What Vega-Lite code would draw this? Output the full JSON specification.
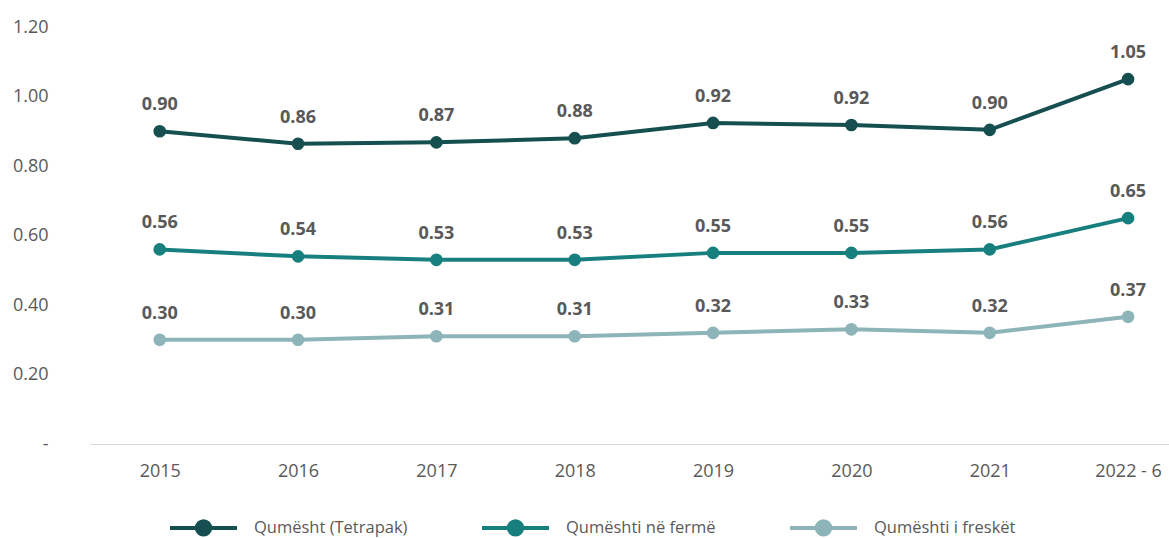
{
  "$schema": "https://vega.github.io/schema/vega-lite/v6.json",
  "width": 1079,
  "height": 417,
  "autosize": {"type": "none"},
  "padding": {"left": 90, "top": 27, "right": 0, "bottom": 94},
  "background": "white",
  "config": {"view": {"stroke": null}, "font": "Open Sans"},
  "data": {
    "values": [
      {"year": "2015", "series": "Qumësht (Tetrapak)", "value": 0.90},
      {"year": "2016", "series": "Qumësht (Tetrapak)", "value": 0.864},
      {"year": "2017", "series": "Qumësht (Tetrapak)", "value": 0.868},
      {"year": "2018", "series": "Qumësht (Tetrapak)", "value": 0.88},
      {"year": "2019", "series": "Qumësht (Tetrapak)", "value": 0.924},
      {"year": "2020", "series": "Qumësht (Tetrapak)", "value": 0.918},
      {"year": "2021", "series": "Qumësht (Tetrapak)", "value": 0.904},
      {"year": "2022 - 6", "series": "Qumësht (Tetrapak)", "value": 1.05},
      {"year": "2015", "series": "Qumështi në fermë", "value": 0.56},
      {"year": "2016", "series": "Qumështi në fermë", "value": 0.54},
      {"year": "2017", "series": "Qumështi në fermë", "value": 0.53},
      {"year": "2018", "series": "Qumështi në fermë", "value": 0.53},
      {"year": "2019", "series": "Qumështi në fermë", "value": 0.55},
      {"year": "2020", "series": "Qumështi në fermë", "value": 0.55},
      {"year": "2021", "series": "Qumështi në fermë", "value": 0.56},
      {"year": "2022 - 6", "series": "Qumështi në fermë", "value": 0.65},
      {"year": "2015", "series": "Qumështi i freskët", "value": 0.30},
      {"year": "2016", "series": "Qumështi i freskët", "value": 0.30},
      {"year": "2017", "series": "Qumështi i freskët", "value": 0.31},
      {"year": "2018", "series": "Qumështi i freskët", "value": 0.31},
      {"year": "2019", "series": "Qumështi i freskët", "value": 0.32},
      {"year": "2020", "series": "Qumështi i freskët", "value": 0.33},
      {"year": "2021", "series": "Qumështi i freskët", "value": 0.32},
      {"year": "2022 - 6", "series": "Qumështi i freskët", "value": 0.366}
    ]
  },
  "encoding": {
    "x": {
      "field": "year", "type": "ordinal", "sort": null,
      "scale": {"type": "point", "padding": 0.4, "align": 0.63},
      "axis": {"title": null, "labelAngle": 0, "domain": true, "domainColor": "#d9d9d9", "domainWidth": 1, "ticks": false, "tickSize": 0, "labelPadding": 18, "labelFontSize": 18, "labelColor": "#595959", "labelFont": "Open Sans", "grid": false}
    },
    "y": {
      "field": "value", "type": "quantitative",
      "scale": {"domain": [0, 1.2], "nice": false},
      "axis": {"title": null, "values": [0, 0.2, 0.4, 0.6, 0.8, 1.0, 1.2], "labelExpr": "datum.value == 0 ? '-' : format(datum.value, '.2f')", "grid": false, "domain": false, "ticks": false, "tickSize": 0, "labelPadding": 42, "labelFontSize": 18, "labelColor": "#595959", "labelFont": "Open Sans"}
    },
    "color": {
      "field": "series", "type": "nominal",
      "scale": {"domain": ["Qumësht (Tetrapak)", "Qumështi në fermë", "Qumështi i freskët"], "range": ["#154f50", "#17807f", "#8db4b9"]},
      "legend": {
        "title": null, "orient": "none", "direction": "horizontal", "legendX": 78, "legendY": 465,
        "symbolType": "M-1,0H1M0.2,0A0.2,0.2,0,1,1,-0.2,0A0.2,0.2,0,1,1,0.2,0Z",
        "symbolSize": 4489, "symbolStrokeWidth": 4, "labelOffset": 15, "columnPadding": 66,
        "labelFontSize": 16.5, "labelColor": "#595959", "labelFont": "Open Sans",
        "encode": {"symbols": {"update": {"fill": {"scale": "color", "field": "value"}, "stroke": {"scale": "color", "field": "value"}, "strokeWidth": {"value": 4}, "opacity": {"value": 1}}}}
      }
    }
  },
  "layer": [
    {"mark": {"type": "line", "strokeWidth": 4}},
    {"mark": {"type": "point", "filled": true, "size": 160, "opacity": 1}},
    {
      "mark": {"type": "text", "dy": -26, "fontWeight": "bold", "fontSize": 18, "font": "Open Sans"},
      "encoding": {"text": {"field": "value", "format": ".2f"}, "color": {"value": "#595959"}}
    }
  ]
}
